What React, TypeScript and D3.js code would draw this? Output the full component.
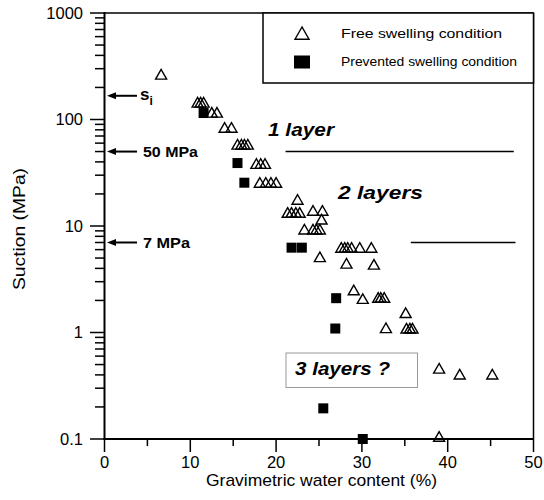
import React from 'react';
import * as d3 from 'd3';

// free swelling condition (open triangles)
const freeWater = [6.6, 10.85, 11.2, 11.55, 12.5, 13.1, 14.0, 14.8, 15.5, 15.95, 16.3, 16.7, 17.7, 18.2, 18.7, 18.1, 18.8, 19.4, 20.0, 22.5, 21.35, 21.8, 22.3, 22.75, 24.3, 25.4, 25.3, 23.3, 24.3, 24.7, 25.1, 25.1, 27.6, 28.0, 28.35, 28.8, 29.75, 31.1, 28.2, 31.4, 29.05, 30.1, 31.9, 32.2, 32.6, 35.1, 32.8, 35.2, 35.6, 35.9, 39.0, 41.4, 45.2, 39.0];
const freeSuction = [262, 143, 143, 143, 115, 115, 83, 83, 57.6, 57.6, 57.6, 57.6, 38, 38, 38, 25.3, 25.3, 25.3, 25.3, 17.5, 13.2, 13.2, 13.2, 13.2, 13.8, 13.8, 11.4, 9.2, 9.2, 9.2, 9.2, 5.06, 6.2, 6.2, 6.2, 6.2, 6.2, 6.2, 4.4, 4.3, 2.47, 2.05, 2.1, 2.1, 2.1, 1.51, 1.09, 1.08, 1.08, 1.08, 0.454, 0.4, 0.4, 0.104];

// prevented swelling condition (filled squares)
const preventedWater = [11.55, 15.5, 16.3, 21.8, 23.0, 27.0, 26.9, 25.5, 30.1];
const preventedSuction = [115, 39, 25.5, 6.26, 6.26, 2.1, 1.09, 0.194, 0.1];

const xTicks = [0, 10, 20, 30, 40, 50];
const xMinorTicks = [5, 15, 25, 35, 45];
const yTickLabels = ['0.1', '1', '10', '100', '1000'];

// suction levels marked on the left axis
const markers = [
  { suction: 167, label: 's' },
  { suction: 50, label: '50 MPa' },
  { suction: 7, label: '7 MPa' },
];
// layer boundary lines: [suction, w start, w end]
const layerLines = [
  [50, 21.1, 47.7],
  [7, 35.7, 47.9],
];

const font = 'Liberation Sans, Arial, Helvetica, sans-serif';

const App = () => {
  const x = d3.scaleLinear().domain([0, 50]).range([104.5, 533.5]);
  const y = d3.scaleLog().domain([0.1, 1000]).range([439, 13]);

  const allYTicks = y.ticks();
  const isMajor = (v: number) => Math.abs(Math.log10(v) - Math.round(Math.log10(v))) < 1e-6;

  const tri = (cx: number, cy: number, s = 5.5) =>
    `M${cx},${cy - s}L${cx - s},${cy + s * 0.75}L${cx + s},${cy + s * 0.75}Z`;

  return (
    <svg width={544} height={500} style={{ position: 'absolute', left: 0, top: 0, background: '#fff' }}
      fontFamily={font}>
      {/* frame */}
      <line x1={104.5} x2={533.5} y1={13} y2={13} stroke="#000" strokeWidth={1.5} />
      <line x1={533.5} x2={533.5} y1={13} y2={439} stroke="#000" strokeWidth={1.5} />
      <line x1={104.5} x2={104.5} y1={12} y2={440} stroke="#000" strokeWidth={2} />
      <line x1={103.5} x2={534} y1={439} y2={439} stroke="#000" strokeWidth={2} />

      {/* y ticks */}
      {allYTicks.map((t, i) => (
        <line key={'yt' + i} x1={isMajor(t) ? 90 : 95} x2={104.5} y1={y(t)} y2={y(t)}
          stroke="#000" strokeWidth={1.5} />
      ))}
      {allYTicks.filter(isMajor).map((t, i) => (
        <text key={'yl' + i} x={83} y={y(t)} dy="0.36em" textAnchor="end" fontSize={16.5}>
          {yTickLabels[i]}
        </text>
      ))}

      {/* x ticks */}
      {xTicks.map(t => (
        <g key={'xt' + t}>
          <line x1={x(t)} x2={x(t)} y1={439} y2={452} stroke="#000" strokeWidth={1.5} />
          <text x={x(t)} y={468} textAnchor="middle" fontSize={16.5}>{t}</text>
        </g>
      ))}
      {xMinorTicks.map(t => (
        <line key={'xm' + t} x1={x(t)} x2={x(t)} y1={439} y2={446} stroke="#000" strokeWidth={1.5} />
      ))}

      {/* axis titles */}
      <text x={206} y={486} fontSize={17} textLength={231} lengthAdjust="spacingAndGlyphs">
        Gravimetric water content (%)
      </text>
      <text transform="translate(25,229) rotate(-90)" textAnchor="middle" fontSize={17}
        textLength={122} lengthAdjust="spacingAndGlyphs">
        Suction (MPa)
      </text>

      {/* suction markers on the left */}
      {markers.map((m, i) => {
        const yy = y(m.suction);
        return (
          <g key={'mk' + i}>
            <line x1={114} x2={137} y1={yy} y2={yy} stroke="#000" strokeWidth={2} />
            <path d={`M107,${yy}L116,${yy - 3.5}L116,${yy + 3.5}Z`} fill="#000" />
            {m.label === 's' ? (
              <text x={140} y={yy + 4} fontSize={17} fontWeight="bold">
                s<tspan fontSize={12} dy={5}>i</tspan>
              </text>
            ) : (
              <text x={143} y={yy + 5.5} fontSize={15} fontWeight="bold"
                textLength={m.label === '50 MPa' ? 55 : 47} lengthAdjust="spacingAndGlyphs">
                {m.label}
              </text>
            )}
          </g>
        );
      })}

      {/* layer boundaries */}
      {layerLines.map((l, i) => (
        <line key={'ll' + i} x1={x(l[1])} x2={x(l[2])} y1={y(l[0])} y2={y(l[0])}
          stroke="#000" strokeWidth={1.5} />
      ))}
      <text x={268} y={136} fontSize={19} fontWeight="bold" fontStyle="italic"
        textLength={66} lengthAdjust="spacingAndGlyphs">1 layer</text>
      <text x={338} y={199} fontSize={19} fontWeight="bold" fontStyle="italic"
        textLength={85} lengthAdjust="spacingAndGlyphs">2 layers</text>
      <rect x={286} y={353} width={131.5} height={34.5} fill="#fff" stroke="#999" strokeWidth={1} />
      <text x={295} y={375} fontSize={19} fontWeight="bold" fontStyle="italic"
        textLength={95} lengthAdjust="spacingAndGlyphs">3 layers ?</text>

      {/* data */}
      {freeWater.map((w, i) => (
        <path key={'f' + i} d={tri(x(w), y(freeSuction[i]))} fill="none" stroke="#000" strokeWidth={1.4} />
      ))}
      {preventedWater.map((w, i) => (
        <rect key={'p' + i} x={x(w) - 5} y={y(preventedSuction[i]) - 5} width={10} height={10} fill="#000" />
      ))}

      {/* legend */}
      <rect x={263} y={13} width={270.5} height={70} fill="#fff" stroke="#000" strokeWidth={1.5} />
      <path d={tri(302, 34, 7)} fill="none" stroke="#000" strokeWidth={1.4} />
      <rect x={294} y={55.5} width={16} height={13} fill="#000" />
      <text x={341} y={38} fontSize={13} textLength={161} lengthAdjust="spacingAndGlyphs">
        Free swelling condition
      </text>
      <text x={341} y={66} fontSize={13} textLength={176} lengthAdjust="spacingAndGlyphs">
        Prevented swelling condition
      </text>
    </svg>
  );
};

export default App;
